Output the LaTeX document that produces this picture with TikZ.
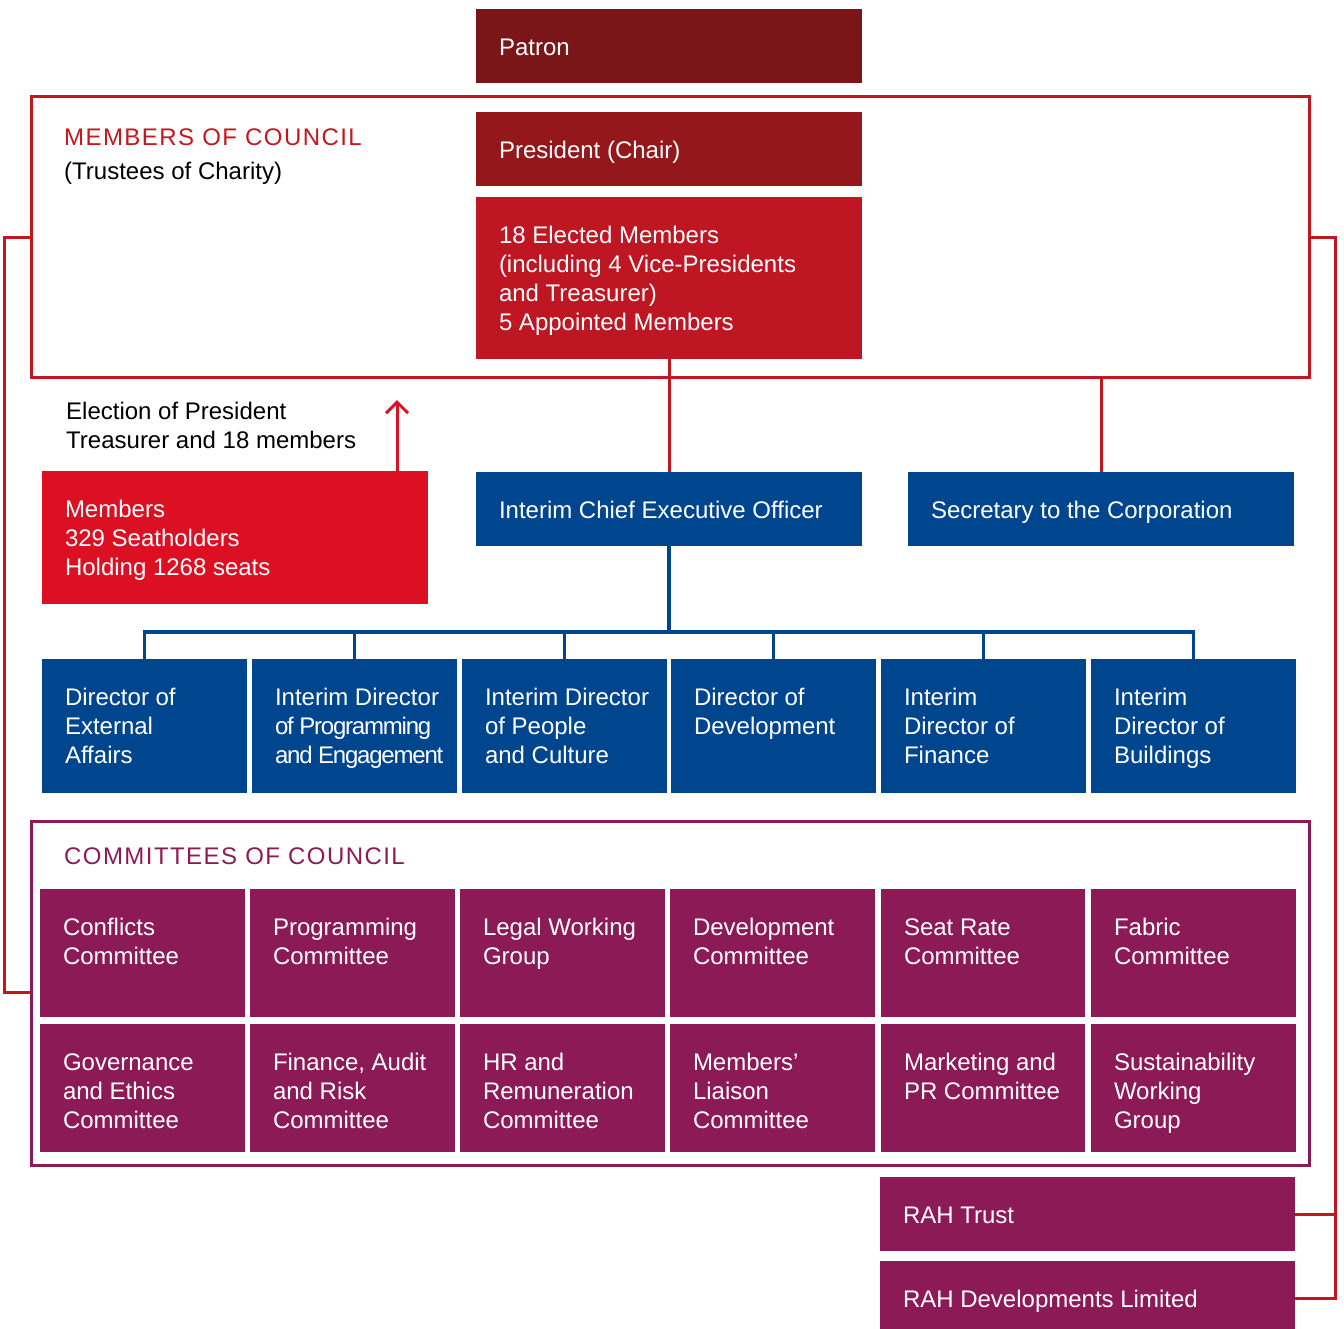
\documentclass[tikz,border=0pt]{standalone}
\usepackage{fontspec}
\setmainfont{Liberation Sans}
\usetikzlibrary{arrows.meta,positioning}
\definecolor{patronred}{HTML}{7A1617}
\definecolor{presred}{HTML}{93171B}
\definecolor{electred}{HTML}{BE1622}
\definecolor{memred}{HTML}{DD0F22}
\definecolor{framered}{HTML}{C4161E}
\definecolor{chartblue}{HTML}{00468E}
\definecolor{commpurple}{HTML}{8C1A56}
% text block: fixed size, first baseline 46pt below the top, 23pt left pad
\newcommand{\cell}[3]{\parbox[c][#2][t]{#1}{\raggedright\leftskip=23pt\relax\rule{0pt}{46pt}#3}}

\begin{document}
\begin{tikzpicture}[x=1pt,y=-1pt,
    every node/.style={font=\fontsize{24}{29}\selectfont},
    box/.style={anchor=north west,inner sep=0pt,outer sep=0pt,text=white},
    txt/.style={anchor=base west,inner sep=0pt},
    redline/.style={draw=framered,line width=3pt},
    blueline/.style={draw=chartblue,line width=3.5pt}]
\useasboundingbox (0,0) rectangle (1344,1328);
% council frame and top of chart
\node[box,draw=framered,line width=3pt,minimum width=1278pt,minimum height=281pt] (council) at (31,96) {};
\node[txt,text=framered] (mctitle) at (64,145) {\addfontfeature{LetterSpace=6}MEMBERS OF COUNCIL};
\node[txt] (trustees) at (64,179) {(Trustees of Charity)};
\node[box,fill=patronred] (patron) at (476,9) {\cell{386pt}{74pt}{Patron}};
\node[box,fill=presred] (president) at (476,112) {\cell{386pt}{74pt}{President (Chair)}};
\node[box,fill=electred] (elected) at (476,197) {\cell{386pt}{162pt}{18 Elected Members\\(including 4 Vice-Presidents\\and Treasurer)\\5 Appointed Members}};
% members
\node[txt] (election) at (66,419) {\parbox[t]{340pt}{Election of President\\Treasurer and 18 members}};
\node[box,fill=memred] (members) at (42,471) {\cell{386pt}{133pt}{Members\\329 Seatholders\\Holding 1268 seats}};
% executive
\node[box,fill=chartblue] (ceo) at (476,472) {\cell{386pt}{74pt}{Interim Chief Executive Officer}};
\node[box,fill=chartblue] (sec) at (908,472) {\cell{386pt}{74pt}{Secretary to the Corporation}};
\node[box,fill=chartblue] (d1) at (42,659) {\cell{205pt}{134pt}{Director of\\External\\Affairs}};
\node[box,fill=chartblue] (d2) at (252,659) {\cell{205pt}{134pt}{Interim Director\\{\addfontfeature{LetterSpace=-5}of Programming}\\{\addfontfeature{LetterSpace=-5}and Engagement}}};
\node[box,fill=chartblue] (d3) at (462,659) {\cell{205pt}{134pt}{Interim Director\\of People\\and Culture}};
\node[box,fill=chartblue] (d4) at (671,659) {\cell{205pt}{134pt}{Director of\\Development}};
\node[box,fill=chartblue] (d5) at (881,659) {\cell{205pt}{134pt}{Interim\\Director of\\Finance}};
\node[box,fill=chartblue] (d6) at (1091,659) {\cell{205pt}{134pt}{Interim\\Director of\\Buildings}};
% committees
\node[box,draw=commpurple,line width=3pt,minimum width=1278pt,minimum height=344pt] (comm) at (31,821) {};
\node[txt,text=commpurple] (ctitle) at (64,864) {\addfontfeature{LetterSpace=6}COMMITTEES OF COUNCIL};
\node[box,fill=commpurple] (c1) at (40,889) {\cell{205pt}{128pt}{Conflicts\\Committee}};
\node[box,fill=commpurple] (c2) at (250,889) {\cell{205pt}{128pt}{Programming\\Committee}};
\node[box,fill=commpurple] (c3) at (460,889) {\cell{205pt}{128pt}{Legal Working\\Group}};
\node[box,fill=commpurple] (c4) at (670,889) {\cell{205pt}{128pt}{Development\\Committee}};
\node[box,fill=commpurple] (c5) at (881,889) {\cell{204pt}{128pt}{Seat Rate\\Committee}};
\node[box,fill=commpurple] (c6) at (1091,889) {\cell{205pt}{128pt}{Fabric\\Committee}};
\node[box,fill=commpurple] (c7) at (40,1024) {\cell{205pt}{128pt}{Governance\\and Ethics\\Committee}};
\node[box,fill=commpurple] (c8) at (250,1024) {\cell{205pt}{128pt}{Finance, Audit\\and Risk\\Committee}};
\node[box,fill=commpurple] (c9) at (460,1024) {\cell{205pt}{128pt}{HR and\\Remuneration\\Committee}};
\node[box,fill=commpurple] (c10) at (670,1024) {\cell{205pt}{128pt}{Members’\\Liaison\\Committee}};
\node[box,fill=commpurple] (c11) at (881,1024) {\cell{204pt}{128pt}{Marketing and\\PR Committee}};
\node[box,fill=commpurple] (c12) at (1091,1024) {\cell{205pt}{128pt}{Sustainability\\Working\\Group}};
% subsidiaries
\node[box,fill=commpurple] (raht) at (880,1177) {\cell{415pt}{74pt}{RAH Trust}};
\node[box,fill=commpurple] (rahd) at (880,1261) {\cell{415pt}{74pt}{RAH Developments Limited}};
% connectors
\coordinate (vote) at (397,400);
\coordinate (bus) at (669,632);
\coordinate (ltop) at (4,237);
\coordinate (lbot) at (4,992);
\coordinate (rtop) at (1335,237);
\coordinate (rbot) at (1335,1298);
\draw[redline] (elected.south) -- (ceo.north);
\draw[redline] (sec.north) -- (sec.north |- council.south);
\draw[draw=memred,line width=3pt,-{Straight Barb[length=11pt,width=22pt]}] (vote |- members.north) -- (vote);
\draw[blueline] (ceo.south) -- (bus);
\foreach \d in {1,...,6}
  \draw[blueline] (bus) -| (d\d.north);
\draw[redline] (council.west |- ltop) -- (ltop) -- (lbot) -- (comm.west |- lbot);
\draw[redline] (council.east |- rtop) -- (rtop) -- (rbot) -- (rahd.east);
\draw[redline] (raht.east) -- (raht.east -| rtop);
\end{tikzpicture}
\end{document}
